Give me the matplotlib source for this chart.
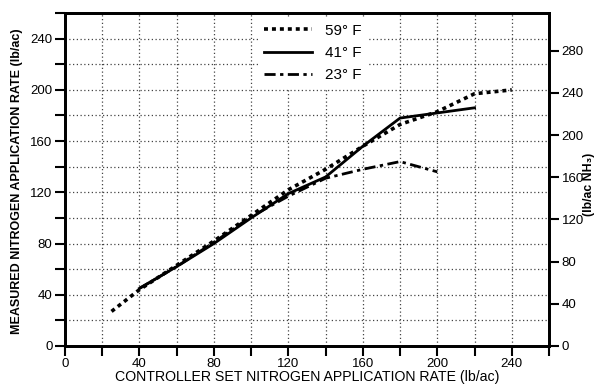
import matplotlib
matplotlib.use("Agg")
import matplotlib.pyplot as plt
from matplotlib.ticker import MultipleLocator

plt.rcParams['font.family'] = ['Liberation Sans', 'DejaVu Sans']

x59 = [25, 40, 60, 80, 100, 120, 140, 160, 180, 200, 220, 240]
y59 = [27, 44, 63, 82, 102, 122, 138, 156, 173, 183, 197, 200]
x41 = [40, 60, 80, 100, 120, 140, 160, 180, 200, 220]
y41 = [45, 62, 80, 100, 119, 132, 156, 178, 182, 186]
x23 = [40, 60, 80, 100, 120, 140, 160, 180, 200]
y23 = [45, 62, 81, 101, 117, 131, 138, 144, 136]
labels = ["59° F", "41° F", "23° F"]
nh3_factor = 17.0 / 14.0

fig = plt.figure(figsize=(5.99, 3.84), dpi=100)
ax = fig.add_axes([0.1085, 0.099, 0.808, 0.867])

ax.set_xlim(0, 260)
ax.set_ylim(0, 260)
ax.xaxis.set_major_locator(MultipleLocator(40))
ax.xaxis.set_minor_locator(MultipleLocator(20))
ax.yaxis.set_major_locator(MultipleLocator(40))
ax.yaxis.set_minor_locator(MultipleLocator(20))
ax.grid(True, which='both', linestyle=(0, (1, 2)), color='#444444', linewidth=0.9)
ax.set_axisbelow(True)

l1, = ax.plot(x59, y59, color='black', lw=2.6, linestyle=(0, (1.1, 1.1)))
l2, = ax.plot(x41, y41, color='black', lw=2.0, linestyle='-')
l3, = ax.plot(x23, y23, color='black', lw=2.0, linestyle=(0, (4, 1.6, 1.2, 1.6)))

for s in ax.spines.values():
    s.set_linewidth(2)
ax.tick_params(which='both', direction='out', width=1.5, labelsize=9.5, pad=2)
ax.tick_params(which='major', length=7)
ax.tick_params(which='minor', length=7)
ax.tick_params(axis='y', which='both', right=False)

ax2 = ax.twinx()
ax2.set_ylim(0, 260 * nh3_factor)
ax2.yaxis.set_major_locator(MultipleLocator(40))
ax2.tick_params(direction='out', width=1.5, length=7, labelsize=9.5, pad=2)
for s in ax2.spines.values():
    s.set_linewidth(2)

ax.set_xlabel("CONTROLLER SET NITROGEN APPLICATION RATE (lb/ac)", fontsize=10.2, labelpad=0)
ax.set_ylabel("MEASURED NITROGEN APPLICATION RATE (lb/ac)", fontsize=9, fontweight='bold')
ax.yaxis.set_label_coords(-0.086, 0.495)
ax2.set_ylabel("(lb/ac NH₃)", fontsize=8.8, fontweight='bold')
ax2.yaxis.set_label_coords(1.07, 0.485)

leg = ax.legend([l1, l2, l3], labels, loc='upper left', bbox_to_anchor=(0.385, 1.005),
                frameon=True, fancybox=False, facecolor='white', edgecolor='white', framealpha=1,
                handlelength=3.2, handletextpad=0.8, fontsize=11, borderpad=0.3,
                labelspacing=0.55)
leg.set_zorder(5)

fig.savefig("out.png", dpi=100)
